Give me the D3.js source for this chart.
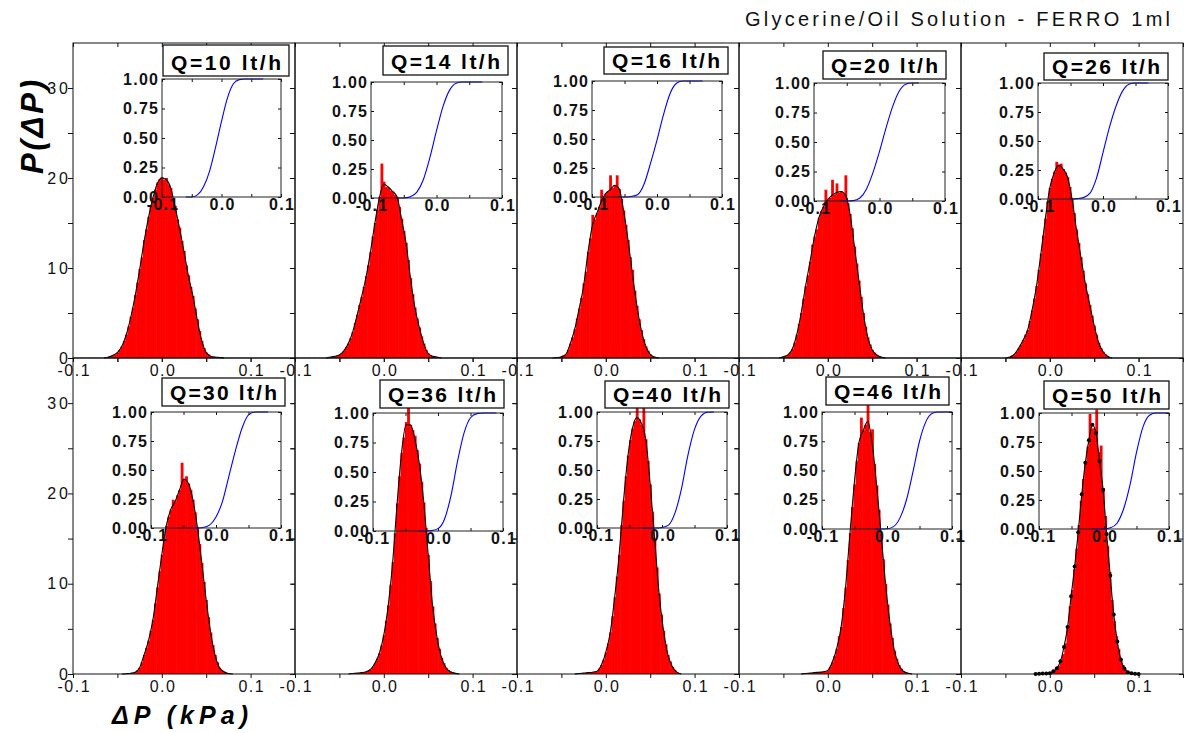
<!DOCTYPE html>
<html><head><meta charset="utf-8">
<script src="https://cdn.jsdelivr.net/npm/d3@7"></script>
<style>body{margin:0;background:#fff}svg{display:block}</style>
</head><body>
<svg id="chart" width="1187" height="733"></svg>
<script>
// ---------------- DATA ----------------
const flowRates = [10, 14, 16, 20, 26, 30, 36, 40, 46, 50];
const panelLabels = flowRates.map(q => `Q=${q} lt/h`);
const chartTitle = "Glycerine/Oil Solution - FERRO 1ml";
const yTitle = "P(\u0394P)";
const xTitle = "\u0394P (kPa)";

const mainXTicks = [-0.1, -0.05, 0, 0.05, 0.1, 0.15];
const mainXLabelValues = [-0.1, 0, 0.1];
const mainXLabels = ["-0.1", "0.0", "0.1"];
const mainYTicks = [0, 5, 10, 15, 20, 25, 30];
const mainYLabelValues = [0, 10, 20, 30];
const insetXTicks = [-0.1, -0.05, 0, 0.05, 0.1];
const insetXLabels = ["-0.1", "0.0", "0.1"];
const insetYTicks = [0, 0.25, 0.5, 0.75, 1];

// histogram P(ΔP): bin width and centre of first bin per panel
const binWidth = 0.0025;
const histStart = [-0.065, -0.065, -0.060, -0.055, -0.050, -0.045, -0.040, -0.035, -0.030, -0.015];
const histQ10 = [0,0.05,0.1,0.2,0.3,0.4,0.6,0.9,1.3,1.9,2.6,3.5,4.6,5.6,7.0,8.4,9.9,11.2,13.1,14.3,15.7,16.9,17.8,18.7,19.5,19.9,20.1,19.8,20.0,19.3,18.9,17.8,16.9,15.4,14.5,13.0,11.9,10.3,9.2,7.9,6.9,5.5,4.3,3.0,1.9,1.1,0.6,0.4,0.2,0.15,0.1,0.1,0.05,0.03,0];
const histQ14 = [0,0.05,0.1,0.15,0.2,0.25,0.35,0.55,0.8,1.2,1.6,2.2,2.9,3.9,4.8,5.9,6.8,7.9,9.1,10.3,11.8,13.5,15.0,16.5,17.9,21.6,19.6,19.0,18.9,18.6,18.5,18.1,17.9,16.8,15.5,14.1,12.8,10.9,8.9,7.1,5.6,4.4,3.4,2.4,1.6,0.9,0.5,0.3,0.2,0.15,0.1,0.05,0];
const histQ16 = [0,0.03,0.05,0.1,0.15,0.25,0.4,0.9,1.6,2.3,3.2,4.4,5.5,6.7,8.3,9.6,11.8,13.3,15.9,15.4,16.1,16.8,18.7,17.9,18.3,18.5,20.3,18.9,19.2,20.3,18.8,17.7,16.4,14.8,13.1,11.2,9.8,7.5,5.8,4.3,3.1,2.1,1.3,0.8,0.4,0.2,0.1,0.05,0];
const histQ20 = [0,0.08,0.15,0.25,0.35,0.6,1.0,1.7,2.6,3.8,5.0,6.6,8.0,9.2,10.7,12.6,13.5,14.3,15.6,16.3,16.8,18.7,17.6,17.8,19.8,18.2,19.4,18.4,18.5,18.3,20.3,17.2,16.0,14.4,12.4,10.5,8.6,6.8,5.0,3.5,2.3,1.5,0.9,0.6,0.35,0.2,0.1,0.05,0];
const histQ26 = [0,0.05,0.1,0.25,0.4,0.7,1.1,1.5,2.0,2.6,3.1,4.1,5.3,6.6,8.0,9.8,11.6,13.6,15.5,17.3,18.9,19.9,20.7,21.8,21.5,21.6,21.0,20.6,20.1,19.0,17.7,16.1,14.3,12.8,11.2,9.7,8.3,7.1,5.9,4.7,3.6,2.6,1.7,1.1,0.7,0.4,0.2,0.1,0];
const histQ30 = [0,0.02,0.03,0.05,0.08,0.12,0.2,0.4,0.7,1.3,2.1,2.9,3.7,4.8,6.0,7.8,9.6,11.4,13.2,14.9,16.4,17.4,18.2,19.3,19.1,19.8,20.4,23.4,21.6,21.9,21.1,20.4,19.3,17.9,16.3,14.4,12.3,10.2,8.2,6.3,4.6,3.2,2.1,1.3,0.7,0.4,0.25,0.12,0.05,0.02,0];
const histQ36 = [0,0.03,0.05,0.07,0.1,0.12,0.15,0.2,0.25,0.35,0.5,0.8,1.2,1.7,2.3,3.2,4.3,5.9,7.6,9.9,12.4,15.6,18.9,21.9,24.5,26.2,27.9,29.9,27.6,27.0,26.4,24.8,23.3,21.3,19.0,16.2,13.2,10.3,7.5,5.6,4.0,2.8,1.8,1.2,0.7,0.45,0.25,0.15,0.1,0.05,0];
const histQ40 = [0,0.03,0.05,0.07,0.1,0.12,0.15,0.18,0.2,0.25,0.3,0.6,1.0,1.6,2.4,3.4,4.6,6.4,8.5,10.8,13.2,16.5,19.2,21.9,24.2,25.9,27.2,28.0,29.5,28.2,27.6,29.5,26.0,23.6,21.0,18.0,15.0,11.8,8.9,6.6,4.8,3.3,2.1,1.4,0.8,0.45,0.2,0.1,0];
const histQ46 = [0,0.03,0.05,0.07,0.1,0.12,0.15,0.17,0.2,0.22,0.25,0.3,0.4,0.8,1.3,2.0,2.8,4.2,5.2,7.3,9.6,12.6,15.6,18.5,21.0,23.6,25.6,28.4,27.0,27.6,30.1,26.8,27.1,23.3,20.9,18.2,15.5,12.7,10.0,7.7,5.6,4.0,2.6,1.7,1.0,0.6,0.3,0.2,0.1,0.05,0];
const histQ50 = [0,0.02,0.04,0.05,0.05,0.06,0.08,0.2,0.4,0.6,0.9,1.5,2.2,3.4,5.0,7.5,9.3,11.6,13.9,16.5,19.2,21.6,23.6,25.2,28.8,27.2,27.2,29.3,24.6,25.3,20.6,17.5,14.2,11.3,8.2,5.9,4.2,2.8,1.6,1.0,0.5,0.3,0.15,0.08,0.05,0.02,0];
const hists = [histQ10, histQ14, histQ16, histQ20, histQ26, histQ30, histQ36, histQ40, histQ46, histQ50];

// fitted curve (black line): first x and step per panel
const fitStart = [-0.065, -0.065, -0.060, -0.055, -0.050, -0.045, -0.040, -0.035, -0.030, -0.016];
const fitStep  = [0.005, 0.005, 0.005, 0.005, 0.005, 0.005, 0.005, 0.005, 0.005, 0.004];
const fitQ10 = [0,0.1,0.3,0.6,1.3,2.6,4.5,6.9,9.8,12.9,15.6,17.8,19.4,20.0,19.8,18.9,16.8,14.4,11.8,9.1,6.9,4.2,1.9,0.6,0.2,0.1,0.05,0];
const fitQ14 = [0,0.1,0.2,0.35,0.8,1.6,2.9,4.8,6.8,9.0,11.8,15.0,17.8,19.3,19.0,18.5,17.9,15.4,12.8,8.9,5.6,3.4,1.6,0.5,0.2,0.1,0];
const fitQ16 = [0,0.05,0.15,0.4,1.6,3.2,5.5,8.0,11.8,14.8,16.1,17.4,18.3,18.7,19.2,18.8,16.4,13.1,9.3,5.8,3.1,1.3,0.4,0.1,0];
const fitQ20 = [0,0.15,0.35,1.0,2.6,5.0,8.0,10.7,13.5,15.6,16.8,17.6,18.1,18.4,18.5,18.1,16.0,12.4,8.6,5.0,2.3,0.9,0.35,0.1,0];
const fitQ26 = [0,0.1,0.4,1.1,2.0,3.1,5.3,8.0,11.6,15.5,18.9,20.6,21.4,21.0,20.1,17.7,14.3,11.2,8.3,5.9,3.6,1.7,0.7,0.2,0];
const fitQ30 = [0,0.03,0.08,0.2,0.7,2.1,3.7,6.0,9.6,13.2,16.4,18.2,19.1,20.4,21.6,21.1,19.3,16.3,12.3,8.2,4.6,2.1,0.7,0.25,0.05,0];
const fitQ36 = [0,0.05,0.1,0.15,0.25,0.5,1.2,2.3,4.3,7.6,12.4,18.9,24.5,27.6,27.6,26.0,23.3,19.0,13.2,7.5,4.0,1.8,0.7,0.25,0.1,0];
const fitQ40 = [0,0.05,0.1,0.15,0.2,0.3,1.0,2.4,4.6,8.5,13.2,19.2,24.2,27.2,28.4,27.8,26.0,21.0,15.0,8.9,4.8,2.1,0.8,0.2,0];
const fitQ46 = [0,0.05,0.1,0.15,0.2,0.25,0.4,1.3,2.8,5.2,9.6,15.6,21.3,25.6,27.0,28.0,25.5,20.9,15.5,10.0,5.6,2.6,1.0,0.3,0.1,0];
const fitQ50 = [0,0.03,0.05,0.05,0.08,0.3,0.65,1.4,3.0,5.2,8.6,11.9,15.7,19.9,23.4,25.9,27.6,26.7,23.6,20.4,15.5,10.9,6.6,3.6,1.6,0.6,0.2,0.07,0.03,0];
const fits = [fitQ10, fitQ14, fitQ16, fitQ20, fitQ26, fitQ30, fitQ36, fitQ40, fitQ46, fitQ50];
const fitMarkers = [false, false, false, false, false, false, false, false, false, true];

// cumulative distribution (inset, blue): first x, step 0.01
const cdfStep = 0.01;
const cdfStart = [-0.06, -0.06, -0.06, -0.06, -0.05, -0.04, -0.03, -0.03, -0.02, -0.02];
const cdfQ10 = [0,0,0.02,0.09,0.22,0.42,0.64,0.84,0.96,0.995,1,1,1,1];
const cdfQ14 = [0,0,0.01,0.05,0.16,0.35,0.58,0.79,0.93,0.99,1,1,1,1];
const cdfQ16 = [0,0,0.005,0.02,0.11,0.29,0.49,0.71,0.89,0.98,1,1,1,1];
const cdfQ20 = [0,0,0.003,0.025,0.1,0.24,0.42,0.62,0.80,0.93,0.99,1,1];
const cdfQ26 = [0,0.003,0.012,0.05,0.18,0.40,0.62,0.80,0.93,0.99,1,1,1];
const cdfQ30 = [0,0,0.005,0.025,0.095,0.23,0.45,0.67,0.86,0.975,1,1,1];
const cdfQ36 = [0,0,0.003,0.02,0.10,0.30,0.59,0.83,0.96,0.995,1,1,1];
const cdfQ40 = [0,0,0,0.005,0.025,0.13,0.34,0.63,0.85,0.965,0.998,1];
const cdfQ46 = [0,0,0.002,0.02,0.095,0.25,0.49,0.75,0.92,0.99,1,1,1];
const cdfQ50 = [0,0,0,0.01,0.05,0.17,0.38,0.66,0.88,0.98,1,1,1];
const cdfs = [cdfQ10, cdfQ14, cdfQ16, cdfQ20, cdfQ26, cdfQ30, cdfQ36, cdfQ40, cdfQ46, cdfQ50];

// ---------------- LAYOUT ----------------
const FONT = '"Liberation Sans", Arial, Helvetica, sans-serif';
const colLeft = [73, 295, 517, 739, 961];
const panelW = 222;
const rowTop = [43, 358];
const rowBottom = [358, 674];
const insetLeft   = [162, 371, 592, 814, 1038, 151, 373, 597, 822, 1039];
const insetRight  = [281, 502, 722, 945, 1168, 281, 503, 727, 952, 1169];
const insetTop    = [79, 82, 81, 83, 83, 412, 413, 412, 412, 413];
const insetBottom = [197, 198, 197, 201, 199, 528, 531, 528, 529, 529];
const boxLeft   = [163, 383, 604, 823, 1044, 162, 380, 605, 826, 1044];
const boxRight  = [289, 508, 728, 946, 1168, 285, 504, 729, 949, 1169];
const boxTop    = [45, 46, 47, 51, 53, 378, 380, 381, 377, 381];
const boxBottom = [76, 75, 74, 79, 80, 406, 408, 408, 405, 409];

const svg = d3.select("#chart");
svg.append("rect").attr("width", 1187).attr("height", 733).attr("fill", "#fff");

function styleAxis(sel, size, weight, ls, dx) {
  sel.attr("font-family", FONT).attr("font-size", size).attr("font-weight", weight).attr("color", "#111");
  sel.select(".domain").remove();
  sel.selectAll("text").attr("letter-spacing", ls).attr("dx", dx);
}
const labelFor = (vals, labs) => v => {
  const k = vals.findIndex(t => Math.abs(t - v) < 1e-9);
  return k < 0 ? "" : labs[k];
};

flowRates.forEach((q, i) => {
  const col = i % 5, row = Math.floor(i / 5);
  const x0 = colLeft[col], x1 = x0 + panelW, y0 = rowTop[row], y1 = rowBottom[row];
  const x = d3.scaleLinear().domain([-0.1, 0.15]).range([x0, x1]);
  const y = d3.scaleLinear().domain([0, 35]).range([y1, y0]);
  const g = svg.append("g").attr("class", "panel");

  // histogram bars
  const bw = x(binWidth) - x(0);
  g.selectAll("rect.bar").data(hists[i]).join("rect").attr("class", "bar")
    .attr("x", (d, j) => x(histStart[i] + j * binWidth - binWidth / 2))
    .attr("width", bw + 0.6)
    .attr("y", d => y(d))
    .attr("height", d => y(0) - y(d))
    .attr("fill", "#ff0000");

  // fitted line
  const fx = j => x(fitStart[i] + j * fitStep[i]);
  const line = d3.line().x((d, j) => fx(j)).y(d => y(d)).curve(d3.curveMonotoneX);
  g.append("path").attr("d", line(fits[i])).attr("fill", "none")
    .attr("stroke", "#000").attr("stroke-width", 1.1);
  if (fitMarkers[i]) {
    g.selectAll("circle.dot").data(fits[i]).join("circle").attr("class", "dot")
      .attr("cx", (d, j) => fx(j)).attr("cy", d => y(d)).attr("r", 2).attr("fill", "#000");
  }

  // axes
  g.append("g").attr("transform", `translate(0,${y1})`)
    .call(d3.axisBottom(x).tickValues(mainXTicks).tickSize(4).tickSizeOuter(0).tickPadding(3)
      .tickFormat(labelFor(mainXLabelValues, mainXLabels)))
    .call(styleAxis, 16, "normal", 1.5, 0.75);
  g.append("g").attr("transform", `translate(0,${y0})`)
    .call(d3.axisTop(x).tickValues(mainXTicks).tickSize(-4).tickSizeOuter(0).tickFormat(""))
    .call(styleAxis, 16, "normal", 0, 0);
  g.append("g").attr("transform", `translate(${x0},0)`)
    .call(d3.axisLeft(y).tickValues(mainYTicks).tickSize(5).tickSizeOuter(0).tickPadding(0)
      .tickFormat(v => (col === 0 && mainYLabelValues.includes(v)) ? String(v) : ""))
    .call(styleAxis, 16, "normal", 3, 3);
  g.append("g").attr("transform", `translate(${x1},0)`)
    .call(d3.axisRight(y).tickValues(mainYTicks).tickSize(-4).tickSizeOuter(0).tickFormat(""))
    .call(styleAxis, 16, "normal", 0, 0);
  g.append("rect").attr("x", x0).attr("y", y0).attr("width", x1 - x0).attr("height", y1 - y0)
    .attr("fill", "none").attr("stroke", "#111").attr("stroke-width", 1);

  // inset (cumulative distribution)
  const L = insetLeft[i], R = insetRight[i], T = insetTop[i], B = insetBottom[i];
  const xi = d3.scaleLinear().domain([-0.1, 0.1]).range([L, R]);
  const yi = d3.scaleLinear().domain([0, 1]).range([B, T]);
  const gi = g.append("g").attr("class", "inset");
  const cdfLine = d3.line().x((d, j) => xi(cdfStart[i] + j * cdfStep)).y(d => yi(d)).curve(d3.curveMonotoneX);
  gi.append("path").attr("d", cdfLine(cdfs[i])).attr("fill", "none")
    .attr("stroke", "#0000ff").attr("stroke-width", 1.1);
  gi.append("g").attr("transform", `translate(0,${B})`)
    .call(d3.axisBottom(xi).tickValues(insetXTicks).tickSize(-3).tickSizeOuter(0).tickPadding(2)
      .tickFormat(labelFor(mainXLabelValues, insetXLabels)))
    .call(styleAxis, 16, "bold", 1.3, 0.65);
  gi.append("g").attr("transform", `translate(0,${T})`)
    .call(d3.axisTop(xi).tickValues(insetXTicks).tickSize(-3).tickSizeOuter(0).tickFormat(""))
    .call(styleAxis, 16, "bold", 0, 0);
  gi.append("g").attr("transform", `translate(${L},0)`)
    .call(d3.axisLeft(yi).tickValues(insetYTicks).tickSize(-3).tickSizeOuter(0).tickPadding(4)
      .tickFormat(d3.format(".2f")))
    .call(styleAxis, 16, "bold", 1.3, 1.3);
  gi.append("g").attr("transform", `translate(${R},0)`)
    .call(d3.axisRight(yi).tickValues(insetYTicks).tickSize(-3).tickSizeOuter(0).tickFormat(""))
    .call(styleAxis, 16, "bold", 0, 0);
  gi.append("rect").attr("x", L).attr("y", T).attr("width", R - L).attr("height", B - T)
    .attr("fill", "none").attr("stroke", "#222").attr("stroke-width", 1);

  // label box
  const bl = boxLeft[i], br = boxRight[i], bt = boxTop[i], bb = boxBottom[i];
  g.append("rect").attr("x", bl).attr("y", bt).attr("width", br - bl).attr("height", bb - bt)
    .attr("fill", "#fff").attr("stroke", "#111").attr("stroke-width", 1.3);
  g.append("text").attr("x", (bl + br) / 2).attr("y", bb - 6)
    .attr("text-anchor", "middle").attr("font-family", FONT).attr("font-weight", "bold")
    .attr("font-size", 21).attr("textLength", br - bl - 16).attr("lengthAdjust", "spacing")
    .attr("fill", "#000").text(panelLabels[i]);
});

// titles
svg.append("text").attr("x", 745).attr("y", 26).attr("font-family", FONT).attr("font-size", 20)
  .attr("textLength", 425).attr("lengthAdjust", "spacing").attr("fill", "#111").text(chartTitle);
svg.append("text").attr("transform", "translate(43,127) rotate(-90)").attr("text-anchor", "middle")
  .attr("font-family", FONT).attr("font-size", 31).attr("font-weight", "bold").attr("font-style", "italic")
  .attr("textLength", 94).attr("lengthAdjust", "spacing").attr("fill", "#000").text(yTitle);
svg.append("text").attr("x", 112).attr("y", 724)
  .attr("font-family", FONT).attr("font-size", 25).attr("font-weight", "bold").attr("font-style", "italic")
  .attr("textLength", 136).attr("lengthAdjust", "spacing").attr("fill", "#000").text(xTitle);
</script>
</body></html>
